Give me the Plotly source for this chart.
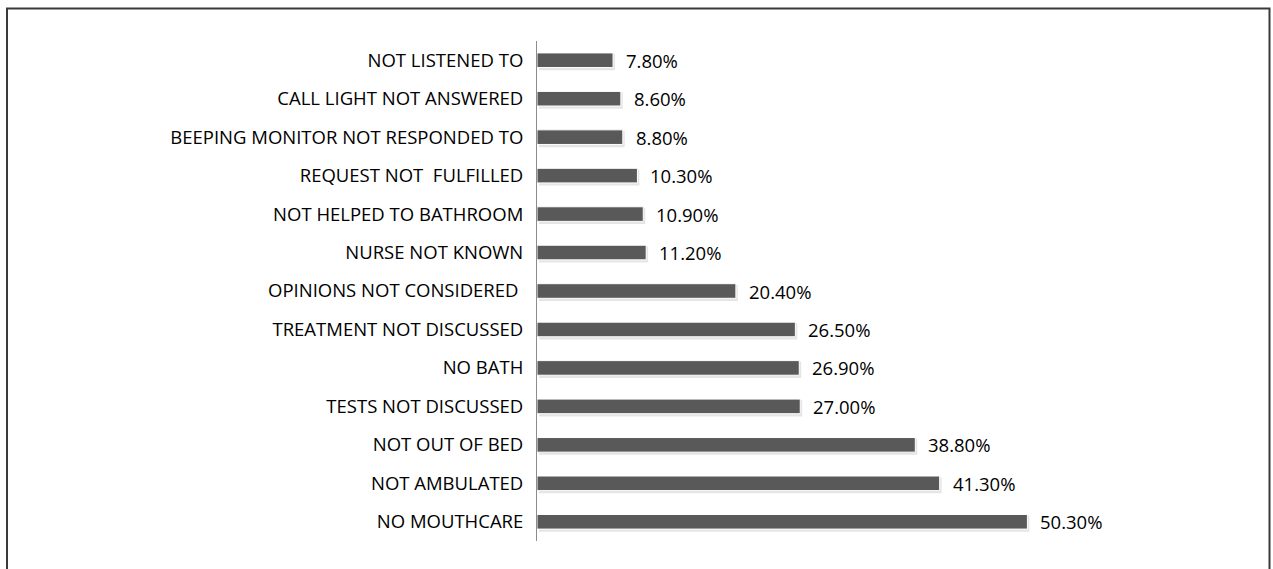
import plotly.graph_objects as go

categories = [
    "NOT LISTENED TO",
    "CALL LIGHT NOT ANSWERED",
    "BEEPING MONITOR NOT RESPONDED TO",
    "REQUEST NOT  FULFILLED",
    "NOT HELPED TO BATHROOM",
    "NURSE NOT KNOWN",
    "OPINIONS NOT CONSIDERED ",
    "TREATMENT NOT DISCUSSED",
    "NO BATH",
    "TESTS NOT DISCUSSED",
    "NOT OUT OF BED",
    "NOT AMBULATED",
    "NO MOUTHCARE",
]
values = [7.8, 8.6, 8.8, 10.3, 10.9, 11.2, 20.4, 26.5, 26.9, 27.0, 38.8, 41.3, 50.3]
value_labels = [f"{v:.2f}%" for v in values]

FONT = "'Open Sans', Lato, sans-serif"
FS = 18.5

fig = go.Figure()
# soft shadow under bars
fig.add_trace(go.Bar(
    y=categories, x=values, base=0.2, orientation="h",
    marker=dict(color="rgba(0,0,0,0.10)", line=dict(width=0)),
    width=0.42, offset=-0.21 + 0.05, hoverinfo="skip",
))
fig.add_trace(go.Bar(
    y=categories, x=values, orientation="h",
    marker=dict(color="#595959", line=dict(color="#ffffff", width=1)),
    width=0.38, offset=-0.19, hoverinfo="skip",
))

for c, v, t in zip(categories, values, value_labels):
    fig.add_annotation(x=v, y=c, text=t, showarrow=False, xanchor="left",
                       xshift=11, font=dict(family=FONT, size=FS, color="#000000"))

fig.add_shape(type="rect", xref="paper", yref="paper",
              x0=(7 - 537) / 585, x1=(1269.5 - 537) / 585,
              y0=-0.08, y1=1 + (41 - 8.5) / 500,
              line=dict(color="#3a3a3a", width=2), fillcolor="rgba(0,0,0,0)")

fig.update_layout(
    width=1273, height=569,
    margin=dict(l=537, r=151, t=41, b=28),
    paper_bgcolor="white", plot_bgcolor="white",
    showlegend=False, barmode="overlay",
    font=dict(family=FONT, size=FS, color="#000000"),
    xaxis=dict(range=[0, 60], visible=False, showgrid=False, zeroline=False),
    yaxis=dict(autorange="reversed", showline=True, linecolor="#8c8c8c", linewidth=1,
               showgrid=False, zeroline=False, ticks="", ticklabelstandoff=9,
               tickfont=dict(family=FONT, size=FS, color="#000000")),
)

fig.write_html("out.html")
